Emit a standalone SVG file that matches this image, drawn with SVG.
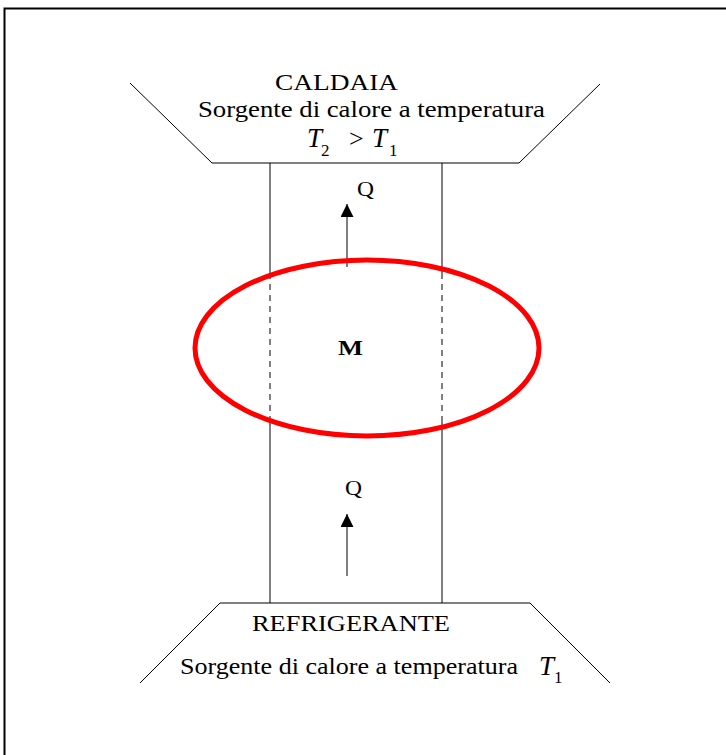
<svg xmlns="http://www.w3.org/2000/svg" width="726" height="755" viewBox="0 0 726 755">
<style>
.ln{stroke:#000;stroke-width:1;fill:none}
.t{font-family:"Liberation Serif",serif;fill:#000}
.i{font-style:italic}
</style>
<defs>
<marker id="ah" viewBox="0 0 10 10" refX="10" refY="5" markerWidth="13" markerHeight="13" markerUnits="userSpaceOnUse" orient="auto">
<path d="M0,0 L10,5 L0,10 z" fill="#000"/>
</marker>
</defs>
<rect width="726" height="755" fill="#fff"/>
<path d="M4.5,755 V8.5 H726" stroke="#000" stroke-width="2" fill="none"/>
<g id="caldaia">
<path class="ln" d="M130,83 L212,163 H519 L600,84"/>
<text class="t" x="275" y="90" font-size="24" textLength="123" lengthAdjust="spacingAndGlyphs">CALDAIA</text>
<text class="t" x="198" y="117" font-size="24" textLength="347" lengthAdjust="spacingAndGlyphs">Sorgente di calore a temperatura</text>
<text class="t i" x="307" y="147" font-size="27">T</text>
<text class="t" x="321" y="156" font-size="17">2</text>
<text class="t" x="349" y="147" font-size="26">&gt;</text>
<text class="t i" x="372" y="147" font-size="27">T</text>
<text class="t" x="389" y="156" font-size="17">1</text>
</g>
<g id="refrigerante">
<path class="ln" d="M140,683 L220,603 H530 L610,683"/>
<text class="t" x="252" y="631" font-size="24" textLength="198" lengthAdjust="spacingAndGlyphs">REFRIGERANTE</text>
<text class="t" x="180" y="674" font-size="24" textLength="338" lengthAdjust="spacingAndGlyphs">Sorgente di calore a temperatura</text>
<text class="t i" x="539" y="675" font-size="27">T</text>
<text class="t" x="554" y="683" font-size="17">1</text>
</g>
<g id="connectors">
<path class="ln" d="M270,163 V273 M270,422 V603 M442,163 V273 M442,422 V603"/>
<path class="ln" d="M270,273 V422 M442,273 V422" stroke-dasharray="6,5"/>
<line class="ln" x1="347" y1="267" x2="347" y2="204" marker-end="url(#ah)"/>
<line class="ln" x1="347" y1="576" x2="347" y2="514" marker-end="url(#ah)"/>
<text class="t" x="357" y="196" font-size="22" textLength="17" lengthAdjust="spacingAndGlyphs">Q</text>
<text class="t" x="345" y="495" font-size="22" textLength="17" lengthAdjust="spacingAndGlyphs">Q</text>
</g>
<g id="M">
<ellipse cx="367" cy="348" rx="172" ry="88" fill="none" stroke="#f00" stroke-width="5"/>
<text class="t" x="338" y="355" font-size="22" font-weight="bold" textLength="25" lengthAdjust="spacingAndGlyphs">M</text>
</g>
</svg>
